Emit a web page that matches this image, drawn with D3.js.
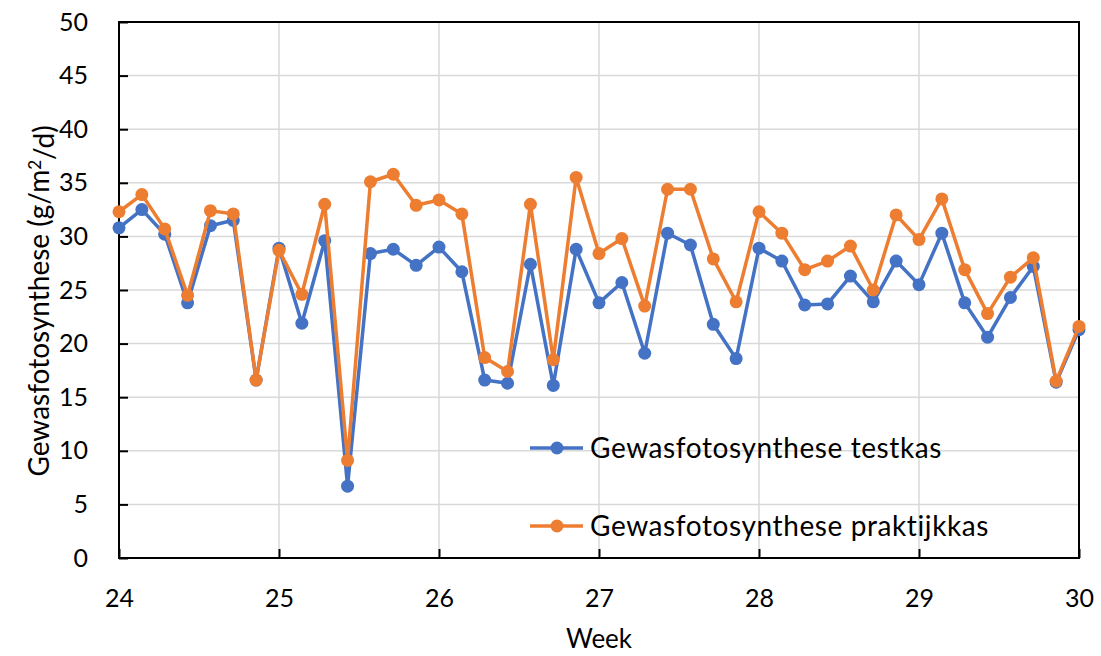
<!DOCTYPE html>
<html>
  <head>
    <meta charset="utf-8">
    <title>Gewasfotosynthese</title>
    <style>
      body { margin: 0; background: white; }
      text { font-family: Lato, "Open Sans", sans-serif; fill: #000; }
    </style>
  </head>
  <body>
    <div id="chart"></div>
    <script src="https://d3js.org/d3.v7.min.js"></script>
    <script>
    // one value per day, starting at week 24
    var testkas = [30.8, 32.5, 30.2, 23.8, 31.0, 31.5, 16.6,
                   28.9, 21.9, 29.6, 6.7, 28.4, 28.8, 27.3,
                   29.0, 26.7, 16.6, 16.3, 27.4, 16.1, 28.8,
                   23.8, 25.7, 19.1, 30.3, 29.2, 21.8, 18.6,
                   28.9, 27.7, 23.6, 23.7, 26.3, 23.9, 27.7,
                   25.5, 30.3, 23.8, 20.6, 24.3, 27.2, 16.4, 21.3];
    var praktijkkas = [32.3, 33.9, 30.7, 24.5, 32.4, 32.1, 16.6,
                       28.7, 24.6, 33.0, 9.1, 35.1, 35.8, 32.9,
                       33.4, 32.1, 18.7, 17.4, 33.0, 18.5, 35.5,
                       28.4, 29.8, 23.5, 34.4, 34.4, 27.9, 23.9,
                       32.3, 30.3, 26.9, 27.7, 29.1, 25.0, 32.0,
                       29.7, 33.5, 26.9, 22.8, 26.2, 28.0, 16.5, 21.6];
    var seriesNames = ["Gewasfotosynthese testkas", "Gewasfotosynthese praktijkkas"];
    var xTicks = [24, 25, 26, 27, 28, 29, 30];
    var yTicks = [0, 5, 10, 15, 20, 25, 30, 35, 40, 45, 50];

    var width = 1101, height = 656;
    var margin = {top: 22, right: 22, bottom: 98, left: 119};
    var colors = ["#4472C4", "#ED7D31"];

    var svg = d3.select("#chart").append("svg")
      .attr("width", width)
      .attr("height", height);

    var x = d3.scaleLinear().domain([24, 30]).range([margin.left, width - margin.right]);
    var y = d3.scaleLinear().domain([0, 50]).range([height - margin.bottom, margin.top]);

    // grid
    svg.append("g").selectAll("line").data(yTicks.slice(1, -1)).enter().append("line")
      .attr("x1", x(24)).attr("x2", x(30))
      .attr("y1", function(d) { return y(d); }).attr("y2", function(d) { return y(d); })
      .attr("stroke", "#d9d9d9").attr("stroke-width", 1.5);
    svg.append("g").selectAll("line").data(xTicks.slice(1, -1)).enter().append("line")
      .attr("y1", y(0)).attr("y2", y(50))
      .attr("x1", function(d) { return x(d); }).attr("x2", function(d) { return x(d); })
      .attr("stroke", "#d9d9d9").attr("stroke-width", 1.5);

    // axes (ticks point inward)
    var xAxis = svg.append("g")
      .attr("transform", "translate(0," + y(0) + ")")
      .call(d3.axisBottom(x).tickValues(xTicks).tickSize(-9).tickPadding(31).tickFormat(d3.format("d")));
    var yAxis = svg.append("g")
      .attr("transform", "translate(" + x(24) + ",0)")
      .call(d3.axisLeft(y).tickValues(yTicks).tickSize(-9).tickPadding(31));
    [xAxis, yAxis].forEach(function(a) {
      a.select(".domain").remove();
      a.selectAll("line").attr("stroke", "#000").attr("stroke-width", 2);
      a.selectAll("text").style("font-size", "25px").attr("fill", "#000");
    });

    // frame
    svg.append("rect")
      .attr("x", x(24)).attr("y", y(50))
      .attr("width", x(30) - x(24)).attr("height", y(0) - y(50))
      .attr("fill", "none").attr("stroke", "#000").attr("stroke-width", 2);

    // series
    var line = d3.line()
      .x(function(d, i) { return x(24 + i / 7); })
      .y(function(d) { return y(d); });

    [testkas, praktijkkas].forEach(function(data, k) {
      var g = svg.append("g");
      g.append("path").datum(data)
        .attr("d", line)
        .attr("fill", "none")
        .attr("stroke", colors[k])
        .attr("stroke-width", 3.5)
        .attr("stroke-linejoin", "round");
      g.selectAll("circle").data(data).enter().append("circle")
        .attr("cx", function(d, i) { return x(24 + i / 7); })
        .attr("cy", function(d) { return y(d); })
        .attr("r", 6.5)
        .attr("fill", colors[k]);
    });

    // legend
    var legendY = [448, 526];
    seriesNames.forEach(function(name, k) {
      var g = svg.append("g").attr("transform", "translate(530," + legendY[k] + ")");
      g.append("line").attr("x1", 0).attr("x2", 53)
        .attr("stroke", colors[k]).attr("stroke-width", 3.5);
      g.append("circle").attr("cx", 27).attr("r", 6.5).attr("fill", colors[k]);
      g.append("text").attr("x", 60).attr("dy", "0.35em")
        .style("font-size", "28px").style("letter-spacing", "0.6px").text(name);
    });

    // axis titles
    svg.append("text")
      .attr("x", (x(24) + x(30)) / 2).attr("y", 648)
      .attr("text-anchor", "middle").style("font-size", "26px")
      .text("Week");

    var yt = svg.append("text")
      .attr("transform", "translate(49,301) rotate(-90)")
      .attr("text-anchor", "middle").style("font-size", "28px");
    yt.append("tspan").text("Gewasfotosynthese (g/m");
    yt.append("tspan").attr("dy", "-0.45em").style("font-size", "17px").text("2");
    yt.append("tspan").attr("dy", "0.45em").text("/d)");
    </script>
  </body>
</html>
